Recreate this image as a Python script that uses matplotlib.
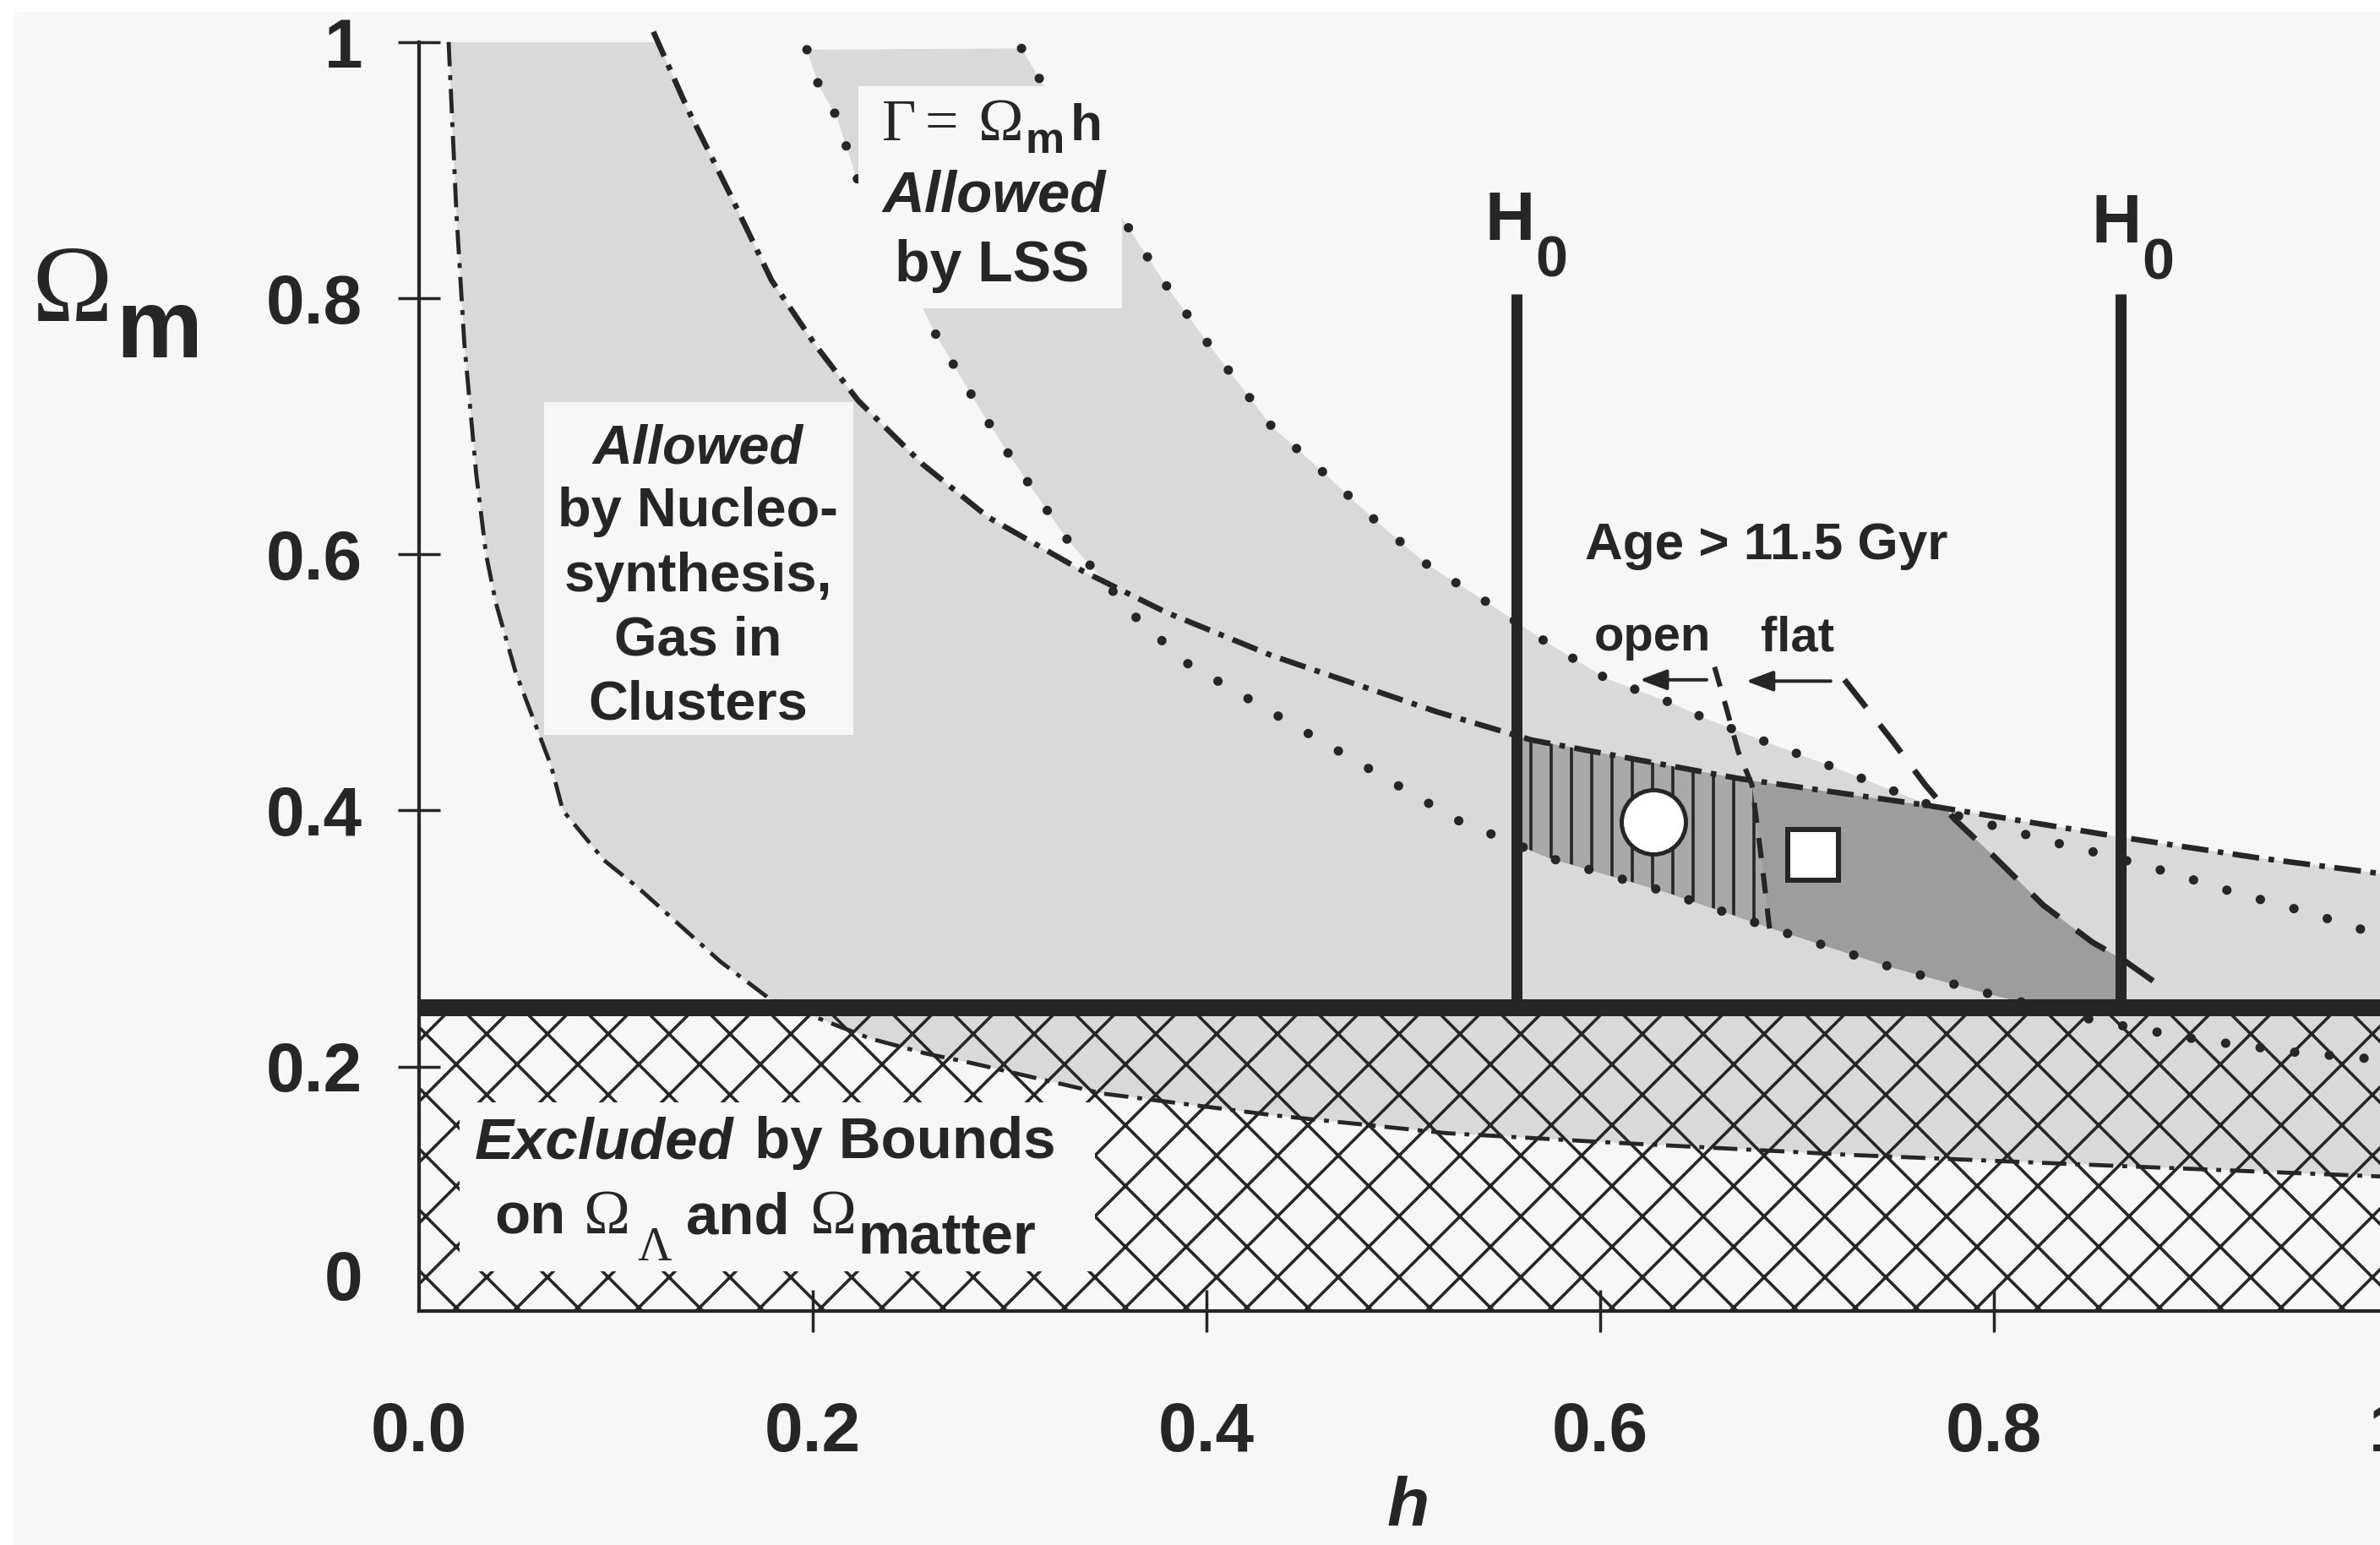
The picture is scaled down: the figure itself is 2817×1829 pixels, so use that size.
import numpy as np
import matplotlib
matplotlib.use("Agg")
import matplotlib.pyplot as plt
from matplotlib.patches import Rectangle

# ---------------- data ----------------
x_ticks = [0.0, 0.2, 0.4, 0.6, 0.8, 1.0]
x_tick_labels = ["0.0", "0.2", "0.4", "0.6", "0.8", "1"]
y_ticks = [0.2, 0.4, 0.6, 0.8, 1.0]
y_tick_labels = ["0.2", "0.4", "0.6", "0.8", "1"]
y_zero_label_pos = 0.0376

# nucleosynthesis + gas-in-clusters band (dash-dot curves)
nuc_low_h = [0.015, 0.019, 0.023, 0.029, 0.034, 0.039, 0.049, 0.067, 0.073, 0.094,
             0.111, 0.132, 0.153, 0.178, 0.204, 0.229, 0.258, 0.280, 0.347, 0.434,
             0.522, 0.602, 0.728, 0.854, 1.0]
nuc_low_om = [1.0, 0.865, 0.764, 0.663, 0.600, 0.562, 0.508, 0.435, 0.400, 0.361,
              0.340, 0.311, 0.282, 0.253, 0.237, 0.222, 0.210, 0.203, 0.179, 0.162,
              0.148, 0.141, 0.131, 0.123, 0.114]
nuc_up_h = [0.119, 0.136, 0.158, 0.179, 0.201, 0.223, 0.256, 0.289, 0.337, 0.379,
            0.433, 0.517, 0.565, 0.670, 0.766, 0.865, 0.934, 1.0]
nuc_up_om = [1.008, 0.949, 0.881, 0.814, 0.764, 0.720, 0.670, 0.629, 0.587, 0.555,
             0.521, 0.477, 0.455, 0.425, 0.404, 0.379, 0.363, 0.350]

# Gamma = Omega_m h allowed by LSS (dotted curves)
lss_low_h = [0.197, 0.203, 0.212, 0.222, 0.263, 0.285, 0.300, 0.329, 0.364, 0.390,
             0.528, 0.574, 0.632, 0.689, 0.747, 0.802, 0.854, 0.904, 0.954, 1.0]
lss_low_om = [0.994, 0.966, 0.942, 0.895, 0.770, 0.713, 0.677, 0.612, 0.551, 0.515,
              0.392, 0.363, 0.337, 0.307, 0.278, 0.255, 0.235, 0.221, 0.211, 0.205]
lss_high_h = [0.306, 0.316, 0.359, 0.379, 0.401, 0.433, 0.460, 0.486, 0.512, 0.543,
              0.572, 0.603, 0.636, 0.653, 0.685, 0.718, 0.751, 0.781, 0.838, 0.855,
              0.888, 0.922, 0.958, 0.991, 1.0]
lss_high_om = [0.995, 0.969, 0.858, 0.811, 0.764, 0.700, 0.663, 0.626, 0.592, 0.562,
               0.532, 0.503, 0.484, 0.472, 0.453, 0.434, 0.414, 0.396, 0.372, 0.366,
               0.352, 0.336, 0.321, 0.305, 0.302]

# Age > 11.5 Gyr limits (dashed)
age_open_h = [0.658, 0.664, 0.670, 0.677, 0.682, 0.686]
age_open_om = [0.512, 0.480, 0.446, 0.420, 0.360, 0.307]
age_flat_h = [0.724, 0.748, 0.765, 0.780, 0.800, 0.825, 0.850, 0.865, 0.888]
age_flat_om = [0.502, 0.455, 0.420, 0.393, 0.364, 0.326, 0.297, 0.284, 0.259]

# H0 limits and the Omega lower bound
h0_values = [0.5575, 0.8644]
h0_top = 0.803
omega_bound = 0.246

# model points
circle_point = (0.627, 0.391)
square_point = (0.708, 0.365)

# arrows (open / flat)
open_arrow = ((0.654, 0.502), (0.620, 0.502))
flat_arrow = ((0.717, 0.501), (0.674, 0.501))

# ---------------- figure set-up ----------------
W, H = 2817, 1829
DPI = 432
PX = 72.0 / DPI          # points per pixel

BG = "#f7f7f7"
LINE = "#262626"
TXT = "#262626"
LIGHT = "#d9d9d9"
DARK = "#9d9d9d"
MID = "#a9a9a9"

plt.rcParams["hatch.linewidth"] = 3.6 * PX

fig = plt.figure(figsize=((W + 0.3) / DPI, (H + 0.3) / DPI), dpi=DPI, facecolor=BG)
fig.add_artist(Rectangle((0, 1 - 14 / H), 1, 14 / H, transform=fig.transFigure,
                         color="white", lw=0, zorder=-5))
fig.add_artist(Rectangle((0, 0), 17 / W, 1, transform=fig.transFigure,
                         color="white", lw=0, zorder=-5))

y0, y1 = 0.0092, 1.02
ax_left, ax_bottom_px, ax_top_px = 496, 1552, 19.7
ax = fig.add_axes([ax_left / W, (H - ax_bottom_px) / H, 2330 / W,
                   (ax_bottom_px - ax_top_px) / H])
ax.set_xlim(0, 1)
ax.set_ylim(y0, y1)
ax.patch.set_visible(False)
for s in ["top", "right"]:
    ax.spines[s].set_visible(False)
for s in ["left", "bottom"]:
    ax.spines[s].set_linewidth(4.2 * PX)
    ax.spines[s].set_color(LINE)
ax.spines["left"].set_bounds(y0, 1.0)

tick_font = dict(fontsize=82 * PX, fontweight="bold", fontfamily="Liberation Sans", color=TXT)
ax.set_xticks(x_ticks, x_tick_labels, **tick_font)
ax.set_yticks(y_ticks, y_tick_labels, **tick_font)
ax.set_yticks([y_zero_label_pos], ["0"], minor=True, **tick_font)
ax.tick_params(axis="both", which="major", direction="inout", length=50 * PX,
               width=3.5 * PX, color=LINE)
ax.tick_params(axis="x", which="major", pad=82 * PX)
ax.tick_params(axis="y", which="major", pad=42 * PX)
ax.tick_params(axis="y", which="minor", length=0, pad=67 * PX)
ax.xaxis.get_major_ticks()[0].tick1line.set_visible(False)

# ---------------- shaded regions ----------------
clip = Rectangle((0, y0), 1, 1 - y0, transform=ax.transData)
nuc_poly = ax.fill(np.r_[nuc_low_h, nuc_up_h[::-1]], np.r_[nuc_low_om, nuc_up_om[::-1]],
                   color=LIGHT, lw=0, zorder=1)[0]
nuc_poly.set_clip_path(clip)
lss_poly = ax.fill(np.r_[lss_low_h, lss_high_h[::-1]], np.r_[lss_low_om, lss_high_om[::-1]],
                   color=LIGHT, lw=0, zorder=1)[0]
lss_poly.set_clip_path(clip)

# age-allowed region (dark): between H0 lines, below upper dash-dot, left of flat line
hh = np.linspace(h0_values[0], h0_values[1], 800)
top = np.minimum(np.interp(hh, nuc_up_h, nuc_up_om),
                 np.interp(hh, age_flat_h, age_flat_om, left=9.0, right=-9.0))
bot = np.maximum(np.interp(hh, lss_low_h, lss_low_om), omega_bound)
ax.fill_between(hh, bot, top, where=top > bot, interpolate=True,
                color=DARK, lw=0, zorder=2)

# open-universe part (vertical hatching)
hh2 = np.linspace(h0_values[0], age_open_h[-1], 400)
top2 = np.minimum(np.interp(hh2, nuc_up_h, nuc_up_om),
                  np.interp(hh2, age_open_h, age_open_om, left=9.0, right=-9.0))
bot2 = np.interp(hh2, lss_low_h, lss_low_om)
ax.fill_between(hh2, bot2, top2, where=top2 > bot2, interpolate=True,
                facecolor=MID, edgecolor=LINE, hatch="|||", lw=0, zorder=3)

# excluded region (cross hatch)
ax.add_patch(Rectangle((0, y0), 1.0, omega_bound - y0, facecolor="none",
                       edgecolor=LINE, hatch="xx", lw=0, zorder=4))

# ---------------- curves ----------------
ax.plot(nuc_low_h, nuc_low_om, color=LINE, lw=0.8, ls=(0, (6.0, 2.2, 1.2, 2.2)), zorder=5)
ax.plot(nuc_up_h, nuc_up_om, color=LINE, lw=1.1, ls=(0, (4.8, 1.7, 1.0, 1.7)), zorder=5)
ax.plot(lss_low_h, lss_low_om, color=LINE, lw=1.85, ls=(0, (0.01, 3.7)),
        dash_capstyle="round", zorder=5)
ax.plot(lss_high_h, lss_high_om, color=LINE, lw=1.85, ls=(0, (0.01, 3.7)),
        dash_capstyle="round", zorder=5)
ax.plot(age_flat_h, age_flat_om, color=LINE, lw=1.15, ls=(0, (6.0, 3.8)), zorder=5)
ax.plot(age_open_h, age_open_om, color=LINE, lw=1.0, ls=(0, (4.0, 3.0)), zorder=5)

ax.plot([0, 1], [omega_bound, omega_bound], color=LINE, lw=20 * PX,
        solid_capstyle="butt", zorder=6)
ax.vlines(h0_values, omega_bound, h0_top, color=LINE, lw=13 * PX, zorder=6)

ax.plot(*circle_point, "o", ms=76 * PX, mfc="white", mec=LINE, mew=5 * PX, zorder=7)
ax.plot(*square_point, "s", ms=60 * PX, mfc="white", mec=LINE, mew=6 * PX, zorder=7)

for (start, end) in (open_arrow, flat_arrow):
    ax.annotate("", xy=end, xytext=start,
                arrowprops=dict(arrowstyle="-|>,head_length=0.45,head_width=0.17",
                                color=LINE, lw=4 * PX, mutation_scale=10,
                                shrinkA=0, shrinkB=0), zorder=7)

# ---------------- text boxes (figure pixel layout) ----------------
def box(x0, yt, x1, yb):
    fig.add_artist(Rectangle((x0 / W, 1 - yb / H), (x1 - x0) / W, (yb - yt) / H,
                             transform=fig.transFigure, color=BG, lw=0, zorder=1))

box(1016, 102, 1328, 365)     # Gamma box
box(644, 476, 1010, 870)      # nucleosynthesis box
box(544, 1305, 1296, 1505)    # excluded box


def T(x, y, s, em, family="Liberation Sans", weight="bold", style="normal", ha="left"):
    fig.text(x / W, 1 - y / H, s, fontsize=em * PX, family=family, fontweight=weight,
             fontstyle=style, ha=ha, va="baseline", color=TXT, zorder=5)


SERIF = "Liberation Serif"
# axis labels
T(37, 380, "Ω", 129, family=SERIF, weight="normal")
T(137, 423, "m", 115)
T(1641, 1806, "h", 82, style="italic")

# Gamma box
T(1044, 166, "Γ", 70, family=SERIF, weight="normal")
T(1114, 166, "=", 70, family=SERIF, weight="normal", ha="center")
T(1157, 166, "Ω", 72, family=SERIF, weight="normal")
T(1213, 181, "m", 52)
T(1266, 166, "h", 62)
T(1176, 250, "Allowed", 69, style="italic", ha="center")
T(1174, 333, "by LSS", 68, ha="center")

# nucleosynthesis box
for yb, s, st in [(548, "Allowed", "italic"), (623, "by Nucleo-", "normal"),
                  (700, "synthesis,", "normal"), (775, "Gas in", "normal"),
                  (851, "Clusters", "normal")]:
    T(826, yb, s, 65, style=st, ha="center")

# H0 labels
for xh, yh in [(1757, 284), (2475, 287)]:
    T(xh, yh, "H", 82)
    T(xh + 60, yh + 43, "0", 68)

# age labels
T(1876, 662, "Age > 11.5 Gyr", 62)
T(1887, 770, "open", 58)
T(2084, 770, "flat", 58)

# excluded box
T(562, 1371, "Excluded", 69, style="italic")
T(893, 1371, "by Bounds", 69)
T(585, 1460, "on", 69)
T(690, 1460, "Ω", 74, family=SERIF, weight="normal")
T(754, 1492, "Λ", 56, family=SERIF, weight="normal")
T(812, 1460, "and", 69)
T(958, 1460, "Ω", 74, family=SERIF, weight="normal")
T(1015, 1483, "matter", 69)

fig.savefig("out.png", dpi=DPI, facecolor=BG)
